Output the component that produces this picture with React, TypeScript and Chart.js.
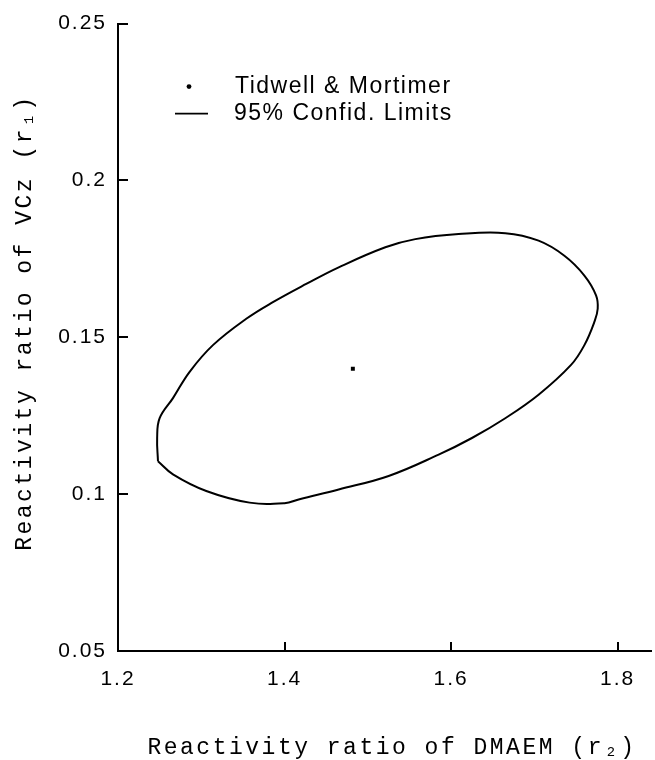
import React, { useEffect, useRef } from "react";
import { Chart, registerables } from "chart.js";

Chart.register(...registerables);

// 95% confidence ellipse (r2 = DMAEM, r1 = VCz)
const ellipseR2 = [1.248, 1.247, 1.250, 1.266, 1.286, 1.314, 1.354, 1.386, 1.426, 1.465, 1.521, 1.557, 1.609, 1.665, 1.705, 1.736, 1.760, 1.774, 1.776, 1.772, 1.760, 1.744, 1.705, 1.665, 1.625, 1.585, 1.525, 1.465, 1.418, 1.400, 1.358, 1.306, 1.266, 1.248];
const ellipseR1 = [0.1105, 0.1179, 0.1242, 0.1306, 0.1390, 0.1475, 0.1559, 0.1612, 0.1670, 0.1723, 0.1787, 0.1813, 0.1829, 0.1832, 0.1808, 0.1760, 0.1697, 0.1634, 0.1591, 0.1549, 0.1475, 0.1412, 0.1317, 0.1242, 0.1179, 0.1126, 0.1058, 0.1015, 0.0984, 0.0971, 0.0973, 0.1010, 0.1063, 0.1105];

// Tidwell & Mortimer estimate
const pointR2 = [1.482];
const pointR1 = [0.140];

const legendLabels = ["Tidwell & Mortimer", "95% Confid. Limits"];
const xTitle = "Reactivity ratio of DMAEM (r\u2082)";
const yTitle = "Reactivity ratio of VCz (r\u2081)";

const X_MIN = 1.2, X_MAX = 1.84, X_STEP = 0.2;
const Y_MIN = 0.05, Y_MAX = 0.25, Y_STEP = 0.05;

const SANS = "'Liberation Sans', Arial, sans-serif";
const MONO = "'Liberation Mono', 'Courier New', monospace";

export default function App() {
  const ref = useRef<HTMLCanvasElement | null>(null);

  useEffect(() => {
    const canvas = ref.current;
    if (!canvas) return;

    const spacingPlugin = {
      id: "spacing",
      beforeDraw(chart: any) {
        (chart.ctx as any).letterSpacing = "2px";
      },
    };

    const decoPlugin = {
      id: "deco",
      afterDraw(chart: any) {
        const ctx = chart.ctx as CanvasRenderingContext2D;
        const { left, top, bottom } = chart.chartArea;
        const xs = chart.scales.x;
        const ys = chart.scales.y;
        ctx.save();
        ctx.strokeStyle = "#000";
        ctx.lineWidth = 2;
        ctx.beginPath();
        ys.ticks.forEach((t: any) => {
          const py = Math.round(ys.getPixelForValue(t.value));
          ctx.moveTo(left, py);
          ctx.lineTo(left + 10, py);
        });
        xs.ticks.forEach((t: any) => {
          const px = Math.round(xs.getPixelForValue(t.value));
          ctx.moveTo(px, bottom);
          ctx.lineTo(px, bottom - 9);
        });
        ctx.stroke();

        // legend
        (ctx as any).letterSpacing = "1.5px";
        ctx.fillStyle = "#000";
        ctx.font = `23px ${SANS}`;
        ctx.textBaseline = "middle";
        ctx.textAlign = "left";
        ctx.beginPath();
        ctx.arc(left + 71, top + 63, 2.4, 0, Math.PI * 2);
        ctx.fill();
        ctx.fillText(legendLabels[0], left + 117, top + 63);
        ctx.lineWidth = 1.6;
        ctx.beginPath();
        ctx.moveTo(left + 57, top + 90);
        ctx.lineTo(left + 90, top + 90);
        ctx.stroke();
        ctx.fillText(legendLabels[1], left + 116, top + 90);

        // axis titles
        (ctx as any).letterSpacing = "2.5px";
        ctx.font = `23px ${MONO}`;
        ctx.textAlign = "center";
        ctx.textBaseline = "middle";
        ctx.fillText(xTitle, left + 274, bottom + 97);
        ctx.save();
        ctx.translate(25, top + 299);
        ctx.rotate(-Math.PI / 2);
        ctx.fillText(yTitle, 0, 0);
        ctx.restore();
        ctx.restore();
      },
    };

    const chart = new Chart(canvas, {
      type: "scatter",
      data: {
        datasets: [
          {
            label: legendLabels[1],
            data: ellipseR2.map((x, i) => ({ x, y: ellipseR1[i] })),
            showLine: true,
            borderColor: "#000",
            borderWidth: 2,
            pointRadius: 0,
            tension: 0.4,
            fill: false,
          },
          {
            label: legendLabels[0],
            data: pointR2.map((x, i) => ({ x, y: pointR1[i] })),
            pointStyle: "rect",
            pointRadius: 2.8,
            backgroundColor: "#000",
            borderColor: "#000",
            borderWidth: 0,
          },
        ],
      },
      options: {
        responsive: false,
        animation: false,
        devicePixelRatio: 1,
        layout: { padding: { top: 20, right: 3, left: 0, bottom: 0 } },
        plugins: {
          legend: { display: false },
          tooltip: { enabled: false },
        },
        scales: {
          x: {
            type: "linear",
            min: X_MIN,
            max: X_MAX,
            afterFit(scale: any) {
              scale.height = 109;
            },
            border: { display: true, color: "#000", width: 2 },
            grid: { display: true, drawOnChartArea: false, drawTicks: false },
            ticks: {
              stepSize: X_STEP,
              includeBounds: false,
              padding: 16,
              color: "#000",
              font: { family: SANS, size: 21 },
              maxRotation: 0,
              callback: (v: any) => Number(v).toFixed(1),
            },
            title: { display: false, text: xTitle },
          },
          y: {
            type: "linear",
            min: Y_MIN,
            max: Y_MAX,
            afterFit(scale: any) {
              scale.width = 118;
            },
            border: { display: true, color: "#000", width: 2 },
            grid: { display: true, drawOnChartArea: false, drawTicks: false },
            ticks: {
              stepSize: Y_STEP,
              padding: 11,
              color: "#000",
              font: { family: SANS, size: 21 },
              callback: (v: any) => String(parseFloat(Number(v).toFixed(2))),
            },
            title: { display: false, text: yTitle },
          },
        },
      },
      plugins: [spacingPlugin, decoPlugin],
    });

    return () => chart.destroy();
  }, []);

  return (
    <div style={{ position: "absolute", left: 0, top: 0, width: 655, height: 760, background: "#fff" }}>
      <canvas ref={ref} width={655} height={760} style={{ display: "block" }} />
    </div>
  );
}
